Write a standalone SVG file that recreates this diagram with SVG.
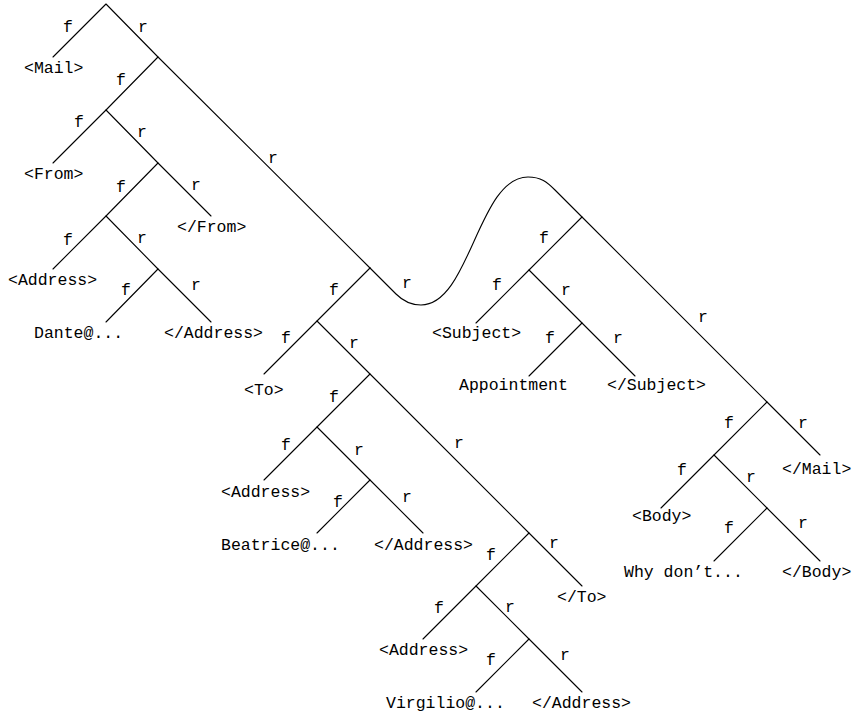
<svg xmlns="http://www.w3.org/2000/svg" width="853" height="717" viewBox="0 0 853 717">
<style>
  .e { stroke: #000; stroke-width: 1.1; fill: none; stroke-linecap: round; }
  .t { font-family: "Liberation Mono", "DejaVu Sans Mono", monospace; font-size: 16.5px; fill: #000; }
  .l { font-family: "Liberation Mono", "DejaVu Sans Mono", monospace; font-size: 16.5px; fill: #000; text-anchor: middle; }
</style>
<rect width="853" height="717" fill="#fff"/>
<g id="connectors">
  <path class="e" d="M106,4 L53,57 M106,4 L158,57"/>
  <path class="e" d="M158,57 L106,110 M158,57 L370,268"/>
  <path class="e" d="M106,110 L53,163 M106,110 L158,163"/>
  <path class="e" d="M158,163 L106,216 M158,163 L211,216"/>
  <path class="e" d="M106,216 L53,269 M106,216 L158,269"/>
  <path class="e" d="M158,269 L106,322 M158,269 L211,322"/>
  <path class="e" d="M370,268 L317,321"/>
  <path class="e" d="M370,268 L396,294 C404,302 412,305 421,305 C470,305 478,177 528,177 C541,177 547,182 555,190 L582,217"/>
  <path class="e" d="M317,321 L264,374 M317,321 L370,374"/>
  <path class="e" d="M370,374 L317,427 M370,374 L529,533"/>
  <path class="e" d="M317,427 L264,480 M317,427 L370,480"/>
  <path class="e" d="M370,480 L317,533 M370,480 L423,533"/>
  <path class="e" d="M529,533 L476,586 M529,533 L582,586"/>
  <path class="e" d="M476,586 L423,639 M476,586 L529,639"/>
  <path class="e" d="M529,639 L476,692 M529,639 L582,692"/>
  <path class="e" d="M582,217 L529,270 M582,217 L767,402"/>
  <path class="e" d="M529,270 L476,323 M529,270 L582,323"/>
  <path class="e" d="M582,323 L529,376 M582,323 L635,376"/>
  <path class="e" d="M767,402 L714,455 M767,402 L820,455"/>
  <path class="e" d="M714,455 L661,508 M714,455 L767,508"/>
  <path class="e" d="M767,508 L714,561 M767,508 L820,561"/>
  <g id="edge-labels">
    <text class="l" x="68" y="32">f</text><text class="l" x="143" y="32">r</text>
    <text class="l" x="121" y="85">f</text><text class="l" x="273" y="163">r</text>
    <text class="l" x="79" y="127">f</text><text class="l" x="142" y="137">r</text>
    <text class="l" x="121" y="192">f</text><text class="l" x="196" y="190">r</text>
    <text class="l" x="68" y="245">f</text><text class="l" x="142" y="243">r</text>
    <text class="l" x="126" y="295">f</text><text class="l" x="196" y="290">r</text>
    <text class="l" x="334" y="295">f</text><text class="l" x="407" y="288">r</text>
    <text class="l" x="286" y="343">f</text><text class="l" x="354" y="348">r</text>
    <text class="l" x="334" y="402">f</text><text class="l" x="459" y="448">r</text>
    <text class="l" x="286" y="450">f</text><text class="l" x="359" y="455">r</text>
    <text class="l" x="338" y="507">f</text><text class="l" x="407" y="502">r</text>
    <text class="l" x="544" y="243">f</text><text class="l" x="703" y="322">r</text>
    <text class="l" x="497" y="290">f</text><text class="l" x="566" y="295">r</text>
    <text class="l" x="550" y="343">f</text><text class="l" x="618" y="343">r</text>
    <text class="l" x="729" y="428">f</text><text class="l" x="803" y="428">r</text>
    <text class="l" x="682" y="475">f</text><text class="l" x="751" y="482">r</text>
    <text class="l" x="729" y="533">f</text><text class="l" x="803" y="528">r</text>
    <text class="l" x="491" y="560">f</text><text class="l" x="554" y="548">r</text>
    <text class="l" x="439" y="613">f</text><text class="l" x="510" y="612">r</text>
    <text class="l" x="491" y="665">f</text><text class="l" x="565" y="660">r</text>
  </g>
</g>
<g id="n-mail-open"><text class="t" x="24" y="73">&lt;Mail&gt;</text></g>
<g id="n-from-open"><text class="t" x="24" y="179">&lt;From&gt;</text></g>
<g id="n-from-close"><text class="t" x="177" y="232">&lt;/From&gt;</text></g>
<g id="n-address1-open"><text class="t" x="8" y="285">&lt;Address&gt;</text></g>
<g id="n-dante"><text class="t" x="34" y="338">Dante@...</text></g>
<g id="n-address1-close"><text class="t" x="164" y="338">&lt;/Address&gt;</text></g>
<g id="n-to-open"><text class="t" x="244" y="395">&lt;To&gt;</text></g>
<g id="n-address2-open"><text class="t" x="221" y="497">&lt;Address&gt;</text></g>
<g id="n-beatrice"><text class="t" x="221" y="550">Beatrice@...</text></g>
<g id="n-address2-close"><text class="t" x="374" y="550">&lt;/Address&gt;</text></g>
<g id="n-to-close"><text class="t" x="557" y="602">&lt;/To&gt;</text></g>
<g id="n-address3-open"><text class="t" x="379" y="655">&lt;Address&gt;</text></g>
<g id="n-virgilio"><text class="t" x="386" y="708">Virgilio@...</text></g>
<g id="n-address3-close"><text class="t" x="532" y="708">&lt;/Address&gt;</text></g>
<g id="n-subject-open"><text class="t" x="432" y="338">&lt;Subject&gt;</text></g>
<g id="n-appointment"><text class="t" x="459" y="390">Appointment</text></g>
<g id="n-subject-close"><text class="t" x="607" y="390">&lt;/Subject&gt;</text></g>
<g id="n-mail-close"><text class="t" x="782" y="474">&lt;/Mail&gt;</text></g>
<g id="n-body-open"><text class="t" x="632" y="521">&lt;Body&gt;</text></g>
<g id="n-whydont"><text class="t" x="624" y="577">Why don’t...</text></g>
<g id="n-body-close"><text class="t" x="782" y="577">&lt;/Body&gt;</text></g>
</svg>
